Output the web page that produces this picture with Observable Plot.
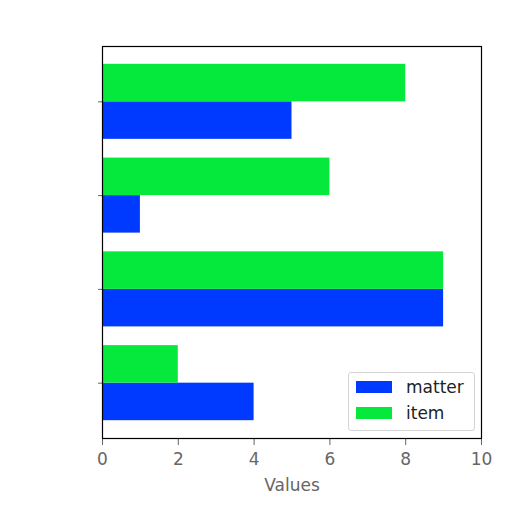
<!DOCTYPE html>
<html><head><meta charset="utf-8">
<script src="https://cdn.jsdelivr.net/npm/d3@7"></script>
<script src="https://cdn.jsdelivr.net/npm/@observablehq/plot@0.6"></script>
<style>
body{margin:0;background:#fff;font-family:"DejaVu Sans",sans-serif;}
#wrap{position:relative;width:512px;height:512px;}
#legend{position:absolute;left:348px;top:372px;width:125px;height:57px;border:1px solid #d4d4d4;border-radius:3px;background:rgba(255,255,255,0.85);font-size:17px;color:#222;}
.row{position:absolute;left:7px;display:flex;align-items:center;}
.sw{width:36px;height:12px;margin-right:14px;}
</style></head>
<body><div id="wrap"><div id="legend"></div></div>
<script>
const categories = [0, 1, 2, 3];
const seriesNames = ["matter", "item"];
const matter = [4, 9, 1, 5];
const item = [2, 9, 6, 8];
const colors = ["#0039ff", "#05e83c"];
const xTicks = [0, 2, 4, 6, 8, 10];
const barWidth = 0.4;

const rows = [];
categories.forEach((c, i) => {
  rows.push({series: "matter", cat: c, v: matter[i], y1: c - barWidth, y2: c});
  rows.push({series: "item", cat: c, v: item[i], y1: c, y2: c + barWidth});
});

const chart = Plot.plot({
  width: 512, height: 512,
  marginLeft: 102, marginRight: 31, marginTop: 46, marginBottom: 74,
  style: {fontFamily: "DejaVu Sans", fontSize: "17px", background: "#fff"},
  x: {domain: [0, 10], ticks: xTicks, tickSize: 7, label: "Values", labelAnchor: "center", labelArrow: "none", labelOffset: 52, tickPadding: 7},
  y: {domain: [-0.59, 3.59], ticks: categories, tickFormat: () => "", tickSize: 4, label: null},
  color: {domain: seriesNames, range: colors},
  marks: [
    Plot.rectX(rows, {x1: 0, x2: "v", y1: "y1", y2: "y2", fill: "series"}),
    Plot.frame({stroke: "#000", strokeWidth: 1.2})
  ]
});
chart.style.color = "#666";
document.getElementById("wrap").prepend(chart);

const lg = document.getElementById("legend");
seriesNames.forEach((s, i) => {
  const r = document.createElement("div");
  r.className = "row";
  r.style.top = (4 + i * 26) + "px";
  r.innerHTML = `<div class="sw" style="background:${colors[i]}"></div><span>${s}</span>`;
  lg.appendChild(r);
});
</script></body></html>
